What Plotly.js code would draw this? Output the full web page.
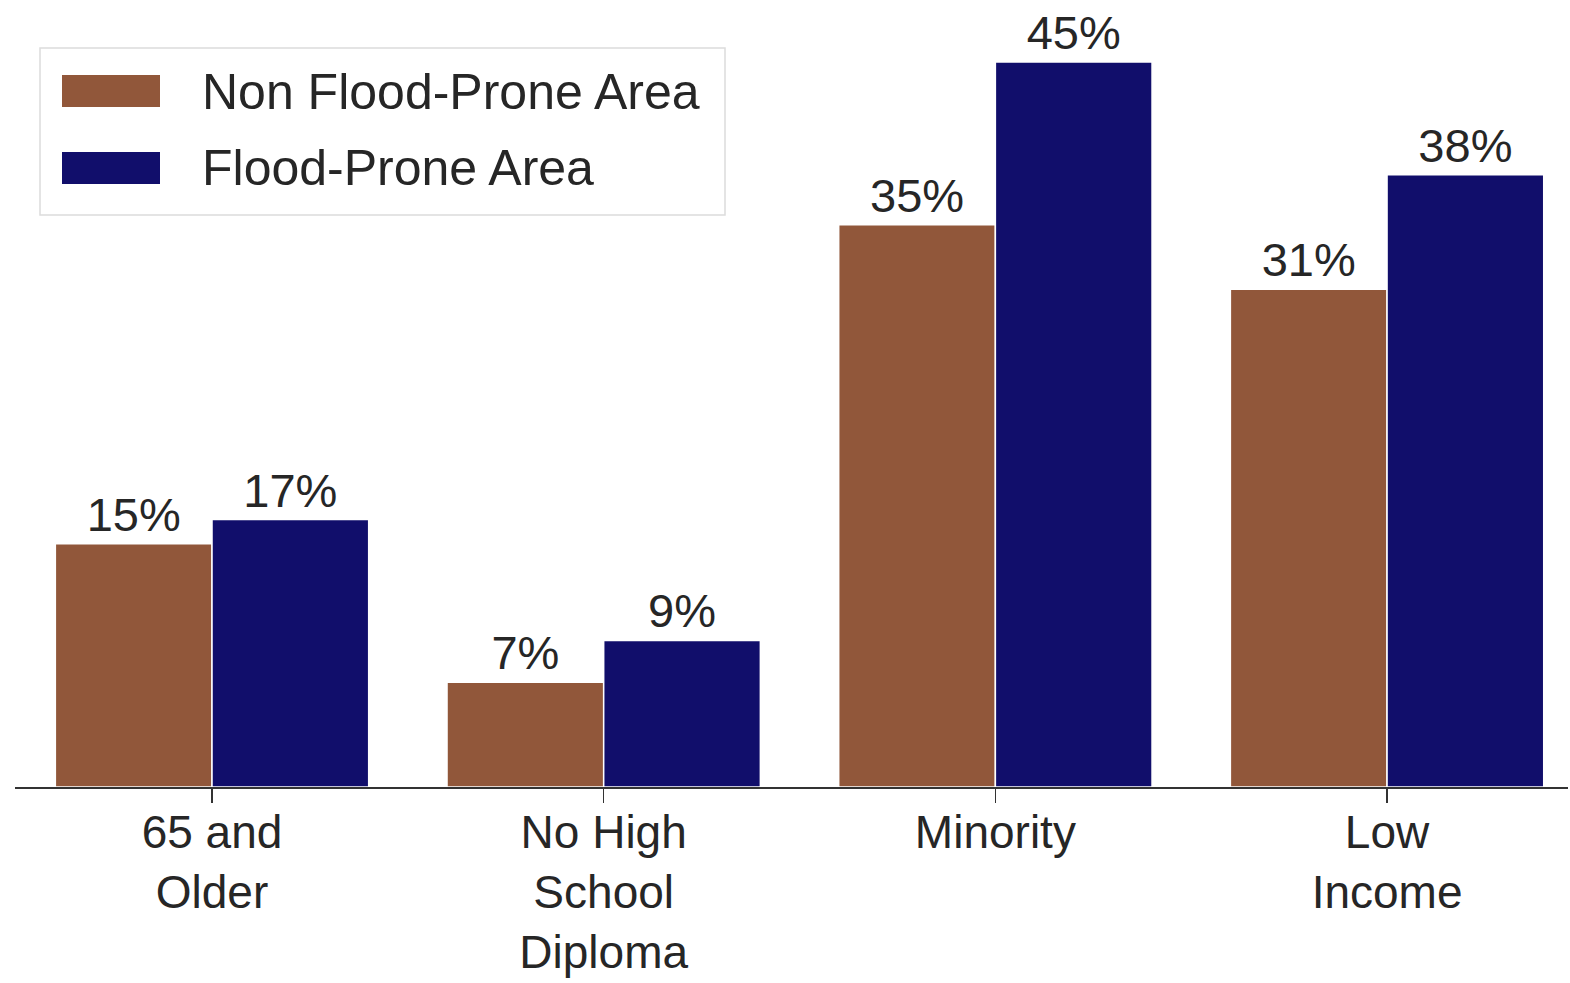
<!DOCTYPE html>
<html>
<head>
<meta charset="utf-8">
<script src="https://cdn.plot.ly/plotly-3.0.1.min.js"></script>
<style>
  html, body { margin: 0; padding: 0; background: #ffffff; }
  #chart { width: 1570px; height: 983px; }
</style>
</head>
<body>
<div id="chart"></div>
<script>
// ---- data ----
const categories = ["65 and<br>Older", "No High<br>School<br>Diploma", "Minority", "Low<br>Income"];
const seriesNames = ["Non Flood-Prone Area", "Flood-Prone Area"];
const nonFloodValues = [15.1, 6.5, 34.9, 30.9];
const floodValues = [16.6, 9.1, 45.0, 38.0];
const seriesColors = ["#91573A", "#110E6B"];

const W = 1570, H = 983;
const mL = 15, mR = 2, mT = 0, mB = 196;
const plotW = W - mL - mR, plotH = H - mT - mB;
const FONT = "Liberation Sans, Arial, sans-serif";
const TXT = "#262626";

function fmt(v) { return Math.round(v) + "%"; }

const traces = [
  {
    type: "bar", name: seriesNames[0], x: categories, y: nonFloodValues,
    marker: { color: seriesColors[0], line: { color: "#ffffff", width: 1.5 } },
    text: nonFloodValues.map(fmt), textposition: "outside", cliponaxis: false,
    textfont: { family: FONT, size: 47, color: TXT }, hoverinfo: "none"
  },
  {
    type: "bar", name: seriesNames[1], x: categories, y: floodValues,
    marker: { color: seriesColors[1], line: { color: "#ffffff", width: 1.5 } },
    text: floodValues.map(fmt), textposition: "outside", cliponaxis: false,
    textfont: { family: FONT, size: 47, color: TXT }, hoverinfo: "none"
  }
];

// pixel -> paper helpers for the hand-built legend
const px = v => (v - mL) / plotW;
const py = v => (H - mB - v) / plotH;

const shapes = [
  { type: "rect", xref: "paper", yref: "paper", x0: px(40), x1: px(725), y0: py(215), y1: py(48),
    line: { color: "#dcdcdc", width: 1.5 }, fillcolor: "rgba(255,255,255,0.8)", layer: "above" },
  { type: "rect", xref: "paper", yref: "paper", x0: px(62), x1: px(160), y0: py(107), y1: py(75),
    line: { width: 0 }, fillcolor: seriesColors[0], layer: "above" },
  { type: "rect", xref: "paper", yref: "paper", x0: px(62), x1: px(160), y0: py(184), y1: py(152),
    line: { width: 0 }, fillcolor: seriesColors[1], layer: "above" }
];
const annotations = [
  { xref: "paper", yref: "paper", x: px(200), y: py(92), xanchor: "left", yanchor: "middle",
    text: seriesNames[0], showarrow: false, font: { family: FONT, size: 50, color: TXT } },
  { xref: "paper", yref: "paper", x: px(200), y: py(168), xanchor: "left", yanchor: "middle",
    text: seriesNames[1], showarrow: false, font: { family: FONT, size: 50, color: TXT } }
];

const layout = {
  width: W, height: H,
  margin: { l: mL, r: mR, t: mT, b: mB, pad: 0 },
  paper_bgcolor: "#ffffff", plot_bgcolor: "#ffffff",
  font: { family: FONT, color: TXT },
  showlegend: false,
  barmode: "group", bargap: 0.2, bargroupgap: 0,
  xaxis: {
    type: "category", range: [-0.503, 3.462],
    showline: true, linecolor: "#333333", linewidth: 2,
    ticks: "outside", ticklen: 14, tickwidth: 1.5, tickcolor: "#333333",
    ticklabelstandoff: -10,
    tickfont: { family: FONT, size: 46, color: TXT },
    showgrid: false, zeroline: false, fixedrange: true
  },
  yaxis: {
    range: [0, 48.85], visible: false, showgrid: false, zeroline: false, fixedrange: true
  },
  shapes: shapes,
  annotations: annotations
};

Plotly.newPlot("chart", traces, layout, { displayModeBar: false, staticPlot: true });
</script>
</body>
</html>
